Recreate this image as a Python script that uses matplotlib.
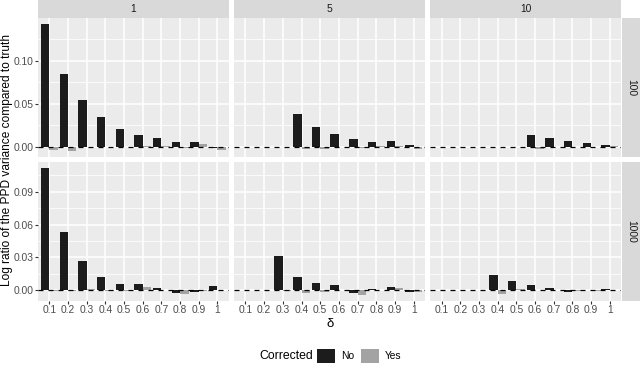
import numpy as np
import matplotlib
matplotlib.use("Agg")
import matplotlib.pyplot as plt
from matplotlib.patches import Patch

plt.rcParams['font.family'] = ['Liberation Sans', 'DejaVu Sans']

W, H = 640, 366

deltas = ["0.1", "0.2", "0.3", "0.4", "0.5", "0.6", "0.7", "0.8", "0.9", "1"]
col_labels = ["1", "5", "10"]
row_labels = ["100", "1000"]
nan = np.nan

# rows: N = 100, 1000 ; columns: 1, 5, 10
no_100_1 = [0.142, 0.0845, 0.0543, 0.0349, 0.0209, 0.0136, 0.0097, 0.0050, 0.0054, -0.0010]
yes_100_1 = [-0.0040, -0.0045, -0.0005, 0.0002, -0.0008, 0.0005, 0.0005, -0.0010, 0.0027, -0.0040]
no_100_5 = [nan, nan, nan, 0.0384, 0.0229, 0.0147, 0.0085, 0.0054, 0.0066, 0.0020]
yes_100_5 = [nan, nan, nan, -0.0025, -0.0020, -0.0005, -0.0010, 0.0010, 0.0015, -0.0030]
no_100_10 = [nan, nan, nan, nan, nan, 0.0136, 0.0097, 0.0066, 0.0039, 0.0023]
yes_100_10 = [nan, nan, nan, nan, nan, -0.0030, -0.0005, 0.0002, -0.0005, 0.0010]

no_1000_1 = [0.1115, 0.0533, 0.0270, 0.0121, 0.0061, 0.0055, 0.0018, -0.0024, -0.0015, 0.0036]
yes_1000_1 = [-0.0010, -0.0010, 0.0015, -0.0005, -0.0005, 0.0027, 0.0005, -0.0033, -0.0010, 0.0005]
no_1000_5 = [nan, nan, 0.0315, 0.0124, 0.0064, 0.0048, -0.0021, 0.0012, 0.0033, -0.0018]
yes_1000_5 = [nan, nan, -0.0005, -0.0027, -0.0020, 0.0005, -0.0040, 0.0005, 0.0024, -0.0015]
no_1000_10 = [nan, nan, nan, 0.0142, 0.0082, 0.0048, 0.0021, -0.0012, 0.0006, 0.0012]
yes_1000_10 = [nan, nan, nan, -0.0036, 0.0015, 0.0005, 0.0005, -0.0005, -0.0010, 0.0000]

data = [
    [(no_100_1, yes_100_1), (no_100_5, yes_100_5), (no_100_10, yes_100_10)],
    [(no_1000_1, yes_1000_1), (no_1000_5, yes_1000_5), (no_1000_10, yes_1000_10)],
]
row_ticks = [[0.0, 0.05, 0.10], [0.0, 0.03, 0.06, 0.09]]
row_tick_labels = [["0.00", "0.05", "0.10"], ["0.00", "0.03", "0.06", "0.09"]]

NO_COL = "#1c1c1c"
YES_COL = "#a3a3a3"


def box(x0, y0, x1, y1):
    return [x0 / W, 1 - y1 / H, (x1 - x0) / W, (y1 - y0) / H]


fig = plt.figure(figsize=(W / 100, H / 100), dpi=100)

col_x = [(38, 228.7), (234.2, 424.9), (430.4, 621.1)]
row_y = [(18, 157), (162, 301)]

x = np.arange(len(deltas))
for r in range(2):
    vals = np.array([v for pair in data[r] for v in pair], dtype=float)
    lo, hi = min(np.nanmin(vals), 0), max(np.nanmax(vals), 0)
    pad = 0.05 * (hi - lo)
    for c in range(3):
        ax = fig.add_axes(box(col_x[c][0], row_y[r][0], col_x[c][1], row_y[r][1]))
        ax.set_facecolor("#ebebeb")
        no, yes = data[r][c]
        ax.bar(x - 0.225, no, width=0.45, color=NO_COL, zorder=3)
        ax.bar(x + 0.225, yes, width=0.45, color=YES_COL, zorder=3)
        ax.axhline(0, color="black", lw=0.9, ls=(0, (4, 4)), zorder=4)
        ax.set_xlim(-0.6, len(deltas) - 0.4)
        ax.set_ylim(lo - pad, hi + pad)
        ax.set_xticks(x)
        ax.set_yticks(row_ticks[r])
        minor = [(a + b) / 2 for a, b in zip(row_ticks[r][:-1], row_ticks[r][1:])]
        minor.append(row_ticks[r][-1] + (row_ticks[r][1] - row_ticks[r][0]) / 2)
        ax.set_yticks(minor, minor=True)
        ax.grid(True, which="major", color="white", lw=1.1, zorder=0)
        ax.grid(True, which="minor", axis="y", color="white", lw=0.55, zorder=0)
        ax.tick_params(which="minor", length=0)
        ax.tick_params(which="major", length=2.0, width=0.8, color="#333333",
                       labelsize=7.4, labelcolor="#4d4d4d", pad=1.2)
        for s in ax.spines.values():
            s.set_visible(False)
        if c == 0:
            ax.set_yticklabels(row_tick_labels[r])
        else:
            ax.tick_params(axis="y", length=0, labelleft=False)
        if r == 1:
            ax.set_xticklabels(deltas)
        else:
            ax.tick_params(axis="x", length=0, labelbottom=False)

# strips
for c, lab in enumerate(col_labels):
    sax = fig.add_axes(box(col_x[c][0], 0, col_x[c][1], 17.5))
    sax.set_facecolor("#d9d9d9")
    sax.set_xticks([]); sax.set_yticks([])
    for s in sax.spines.values():
        s.set_visible(False)
    sax.text(0.5, 0.5, lab, ha="center", va="center", fontsize=7.4, color="#1a1a1a",
             transform=sax.transAxes)
for r, lab in enumerate(row_labels):
    sax = fig.add_axes(box(622, row_y[r][0], 640, row_y[r][1]))
    sax.set_facecolor("#d9d9d9")
    sax.set_xticks([]); sax.set_yticks([])
    for s in sax.spines.values():
        s.set_visible(False)
    sax.text(0.5, 0.5, lab, ha="center", va="center", fontsize=7.4, color="#1a1a1a",
             rotation=-90, transform=sax.transAxes)

fig.text(330 / W, 1 - 324 / H, "δ", ha="center", va="center", fontsize=9.5)
fig.text(7 / W, 1 - 159.5 / H, "Log ratio of the PPD variance compared to truth",
         ha="center", va="center", rotation=90, fontsize=8.6)

fig.text(286 / W, 1 - 356 / H, "Corrected", ha="center", va="center", fontsize=8.8)
handles = [Patch(facecolor=NO_COL, label="No"), Patch(facecolor=YES_COL, label="Yes")]
fig.legend(handles=handles, loc="center left", bbox_to_anchor=(317 / W, 1 - 356 / H),
           ncol=2, frameon=False, fontsize=7.4, handlelength=1.75, handleheight=1.75,
           handletextpad=0.55, columnspacing=0.7, borderpad=0, borderaxespad=0)

fig.savefig("out.png", dpi=100)
